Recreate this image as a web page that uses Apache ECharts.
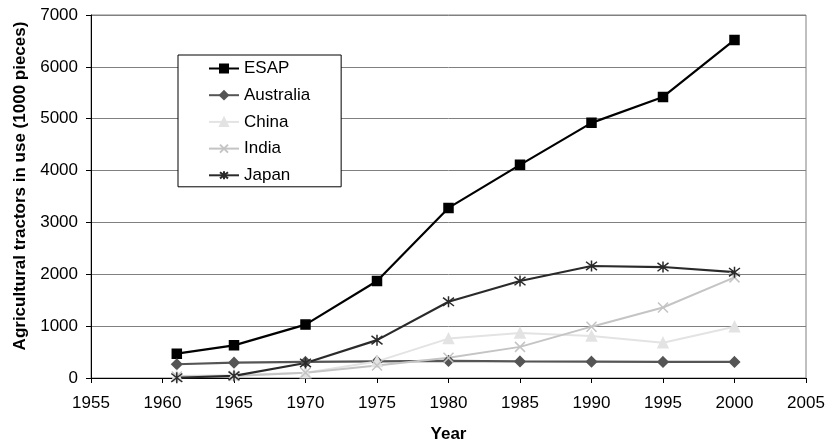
<!DOCTYPE html>
<html><head><meta charset="utf-8">
<script src="https://cdn.jsdelivr.net/npm/echarts@6/dist/echarts.min.js"></script>
<style>html,body{margin:0;padding:0;background:#fff}#c{width:827px;height:446px}</style>
</head><body><div id="c"></div>
<script>
const years = [1961, 1965, 1970, 1975, 1980, 1985, 1990, 1995, 2000];
const esap = [470, 630, 1030, 1870, 3280, 4110, 4920, 5420, 6520];
const australia = [265, 296, 310, 320, 330, 320, 315, 310, 310];
const china = [40, 60, 100, 320, 760, 870, 810, 680, 990];
const india = [30, 40, 100, 240, 390, 600, 990, 1360, 1940];
const japan = [5, 40, 290, 730, 1470, 1870, 2160, 2140, 2040];
const seriesNames = ['ESAP', 'Australia', 'China', 'India', 'Japan'];
const xTicks = {min: 1955, max: 2005, step: 5};
const yTicks = {min: 0, max: 7000, step: 1000};

const FONT = '"Liberation Sans", Arial, sans-serif';
const pair = arr => years.map((y, i) => [y, arr[i]]);
const xPath = 'path://M0,0L10,10M10,0L0,10';
const starPath = 'path://M0,0L10,10M10,0L0,10M5,-1.5L5,11.5';

function mk(name, data, color, symbol, size, width) {
  return {
    name, type: 'line', data: pair(data), symbol, symbolSize: size,
    showSymbol: true,
    lineStyle: {color, width: width || 2},
    itemStyle: {color, borderColor: color, borderWidth: 1.5},
    emphasis: {disabled: true}, animation: false
  };
}

const chart = echarts.init(document.getElementById('c'), null, {renderer: 'canvas'});
chart.setOption({
  animation: false,
  backgroundColor: '#fff',
  grid: {left: 91, right: 21, top: 15, bottom: 68, show: true, borderColor: '#808080', borderWidth: 1,
         containLabel: false, outerBoundsMode: 'none'},
  xAxis: {
    type: 'value', min: xTicks.min, max: xTicks.max, interval: xTicks.step,
    name: 'Year', nameLocation: 'middle', nameGap: 48,
    nameTextStyle: {fontFamily: FONT, fontSize: 17, fontWeight: 'bold', color: '#000'},
    axisLine: {show: true, onZero: false, lineStyle: {color: '#000', width: 1}},
    axisTick: {show: true, length: 5, lineStyle: {color: '#000'}},
    axisLabel: {fontFamily: FONT, fontSize: 17, color: '#000', margin: 17, formatter: v => String(v)},
    splitLine: {show: false}
  },
  yAxis: {
    type: 'value', min: yTicks.min, max: yTicks.max, interval: yTicks.step,
    name: 'Agricultural tractors in use (1000 pieces)', nameLocation: 'middle', nameGap: 58, nameRotate: 90,
    nameTextStyle: {fontFamily: FONT, fontSize: 17, fontWeight: 'bold', color: '#000', padding: [0, 0, 0, 21]},
    axisLine: {show: true, lineStyle: {color: '#000', width: 1}},
    axisTick: {show: true, length: 5, lineStyle: {color: '#000'}},
    axisLabel: {fontFamily: FONT, fontSize: 17, color: '#000', margin: 13, formatter: v => String(v)},
    splitLine: {show: true, lineStyle: {color: '#808080', width: 1}}
  },
  legend: {
    orient: 'vertical', left: 178, top: 55,
    data: seriesNames,
    itemWidth: 30, itemHeight: 10, itemGap: 9.7,
    padding: [5, 31, 3, 30],
    borderColor: '#000', borderWidth: 1, backgroundColor: '#fff',
    textStyle: {fontFamily: FONT, fontSize: 17, color: '#000', lineHeight: 17},
    selectedMode: false
  },
  series: [
    mk('ESAP', esap, '#000000', 'rect', 9, 2.2),
    mk('Australia', australia, '#555555', 'diamond', 10, 2.2),
    mk('China', china, '#e3e3e3', 'triangle', 10, 2),
    mk('India', india, '#c4c4c4', xPath, 10, 2),
    mk('Japan', japan, '#2a2a2a', starPath, 11, 2.2)
  ]
});
</script></body></html>
